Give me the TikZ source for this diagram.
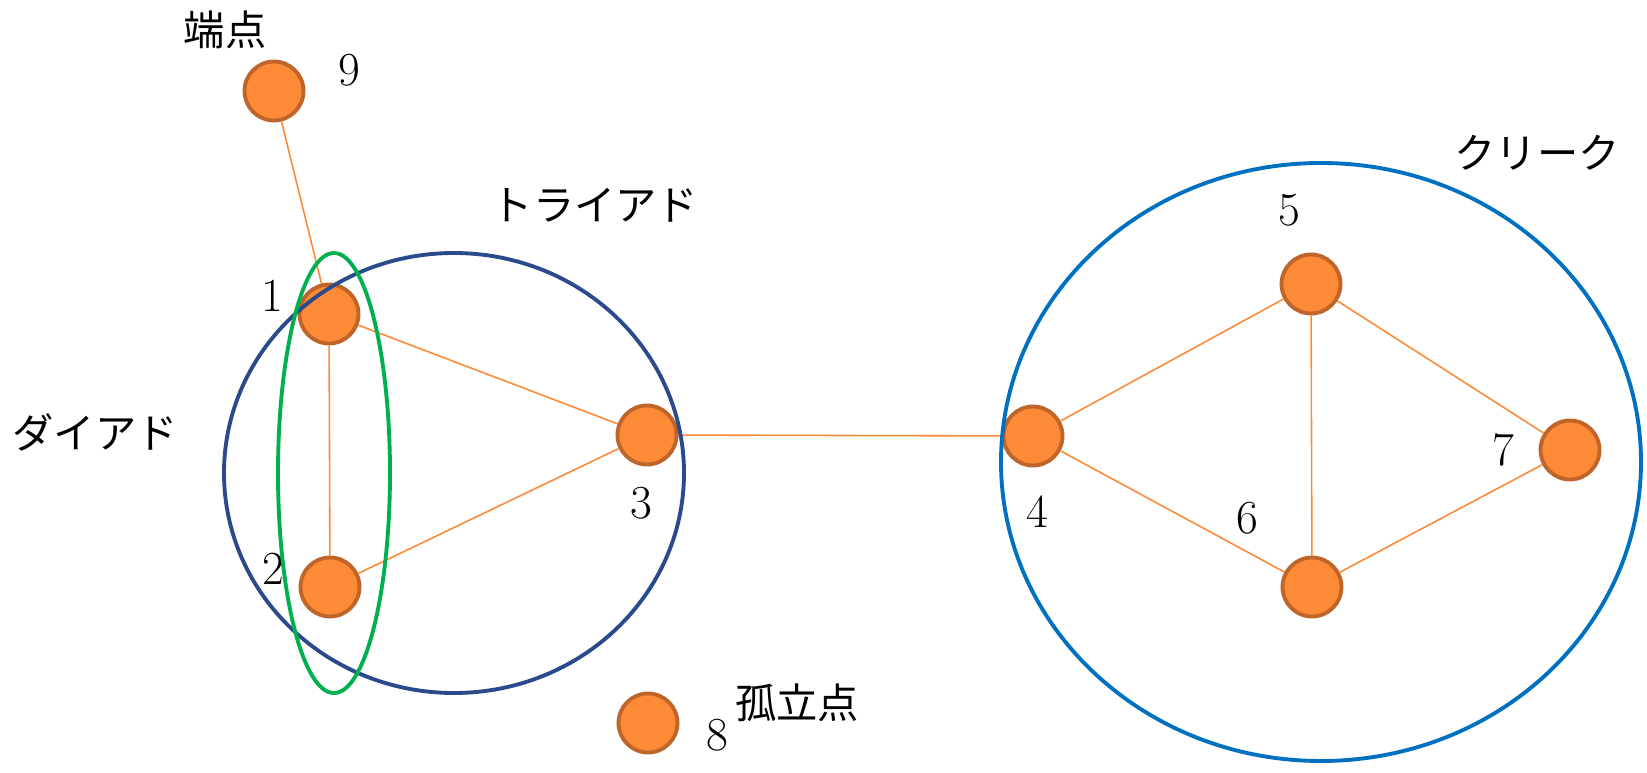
\documentclass[tikz,border=0pt]{standalone}
\usepackage{fontspec}
\newfontfamily\jpfont{Noto Sans CJK JP}
\usepackage{tikz}
\usetikzlibrary{positioning}

\definecolor{vfill}{HTML}{FD8A36}
\definecolor{vline}{HTML}{C0652A}
\definecolor{triblue}{HTML}{2A4A8C}
\definecolor{cliqblue}{HTML}{0070C0}
\definecolor{dygreen}{HTML}{00B050}

\begin{document}
\begin{tikzpicture}[
  x=0.02cm, y=-0.02cm,
  vtx/.style={circle, draw=vline, fill=vfill, line width=2.2pt, minimum size=1.18cm, inner sep=0pt},
  lnk/.style={draw=vfill, line width=0.9pt},
  num/.style={font=\fontsize{27}{27}\selectfont},
  jp/.style={font=\fontsize{23.5}{23.5}\selectfont\jpfont},
  ring/.style={line width=2.2pt}
]
\useasboundingbox (0,0) rectangle (1647,773);
% vertices
\node[vtx] (v1) at (329,314) {};
\node[vtx] (v2) at (330,587) {};
\node[vtx] (v3) at (647,435) {};
\node[vtx] (v4) at (1033,436) {};
\node[vtx] (v5) at (1311,284) {};
\node[vtx] (v6) at (1312,587) {};
\node[vtx] (v7) at (1570,450) {};
\node[vtx] (v8) at (648,723) {};
\node[vtx] (v9) at (274,91) {};
% numbers
\node[num] (n1) at (272,296) {1};
\node[num] (n2) at (273,569) {2};
\node[num] (n3) at (641,503) {3};
\node[num] (n4) at (1037,512) {4};
\node[num] (n5) at (1289,210) {5};
\node[num] (n6) at (1247,518) {6};
\node[num] (n7) at (1503,450) {7};
\node[num] (n8) at (717,735) {8};
\node[num] (n9) at (349,70) {9};
% names
\node[jp] (endpt) at (225,30) {端点};
\node[jp] (triad) at (595,205) {トライアド};
\node[jp] (dyad) at (95,432) {ダイアド};
\node[jp] (isol) at (797,703) {孤立点};
\node[jp] (cliq) at (1537,153) {クリーク};
% links
\draw[lnk] (v9) -- (v1);
\draw[lnk] (v1) -- (v2);
\draw[lnk] (v1) -- (v3);
\draw[lnk] (v2) -- (v3);
\draw[lnk] (v3) -- (v4);
\draw[lnk] (v4) -- (v5);
\draw[lnk] (v4) -- (v6);
\draw[lnk] (v5) -- (v6);
\draw[lnk] (v5) -- (v7);
\draw[lnk] (v6) -- (v7);
% groups
\draw[ring, triblue] (454,473) ellipse [x radius=230, y radius=220];
\draw[ring, dygreen] (334,473) ellipse [x radius=56, y radius=220];
\draw[ring, cliqblue] (1321,462) ellipse [x radius=320, y radius=299];
\end{tikzpicture}
\end{document}
